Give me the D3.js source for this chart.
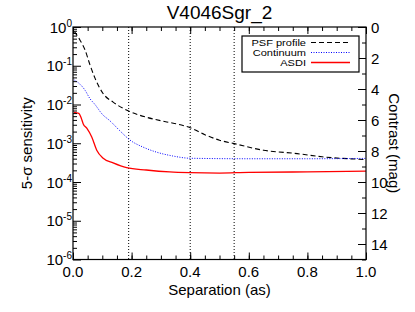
<!DOCTYPE html>
<html>
<head>
<meta charset="utf-8">
<script src="https://cdn.jsdelivr.net/npm/d3@7"></script>
<style>
  body { margin: 0; background: #fff; }
  svg { display: block; font-family: "Liberation Sans", Arial, sans-serif; }
</style>
</head>
<body>
<svg id="chart" width="415" height="312"></svg>
<script>
// ---- data ----
const title = "V4046Sgr_2";
const xLabel = "Separation (as)";
const yLabel = "5-\u03c3 sensitivity";
const y2Label = "Contrast (mag)";

const psfSep  = [0.005, 0.024, 0.041, 0.058, 0.075, 0.102, 0.137, 0.188, 0.25, 0.32, 0.37, 0.40, 0.45, 0.50, 0.55, 0.65, 0.765, 0.85, 0.92, 1.0];
const psfVal  = [0.76, 0.457, 0.257, 0.105, 0.048, 0.0195, 0.0115, 0.0069, 0.0047, 0.00355, 0.00295, 0.00251, 0.00166, 0.0012, 0.00098, 0.00066, 0.00054, 0.000447, 0.000407, 0.00038];

const contSep = [0.005, 0.02, 0.041, 0.058, 0.075, 0.1, 0.126, 0.16, 0.195, 0.24, 0.285, 0.34, 0.4, 0.6, 0.8, 1.0];
const contVal = [0.0427, 0.0355, 0.0234, 0.0141, 0.0100, 0.0056, 0.0038, 0.0021, 0.0012, 0.00079, 0.00059, 0.00047, 0.00041, 0.000398, 0.000398, 0.000407];

const asdiSep = [0.003, 0.02, 0.028, 0.035, 0.047, 0.064, 0.081, 0.103, 0.137, 0.183, 0.25, 0.33, 0.4, 0.5, 0.6, 0.8, 1.0];
const asdiVal = [0.0063, 0.0059, 0.0045, 0.00316, 0.00245, 0.00145, 0.00066, 0.00041, 0.00031, 0.000234, 0.000204, 0.000182, 0.000174, 0.00017, 0.000178, 0.000182, 0.00019];

const vLines = [0.19, 0.40, 0.55];

const xTicks = [0.0, 0.2, 0.4, 0.6, 0.8, 1.0];
const xTickLabels = ["0.0", "0.2", "0.4", "0.6", "0.8", "1.0"];
const yExponents = [0, -1, -2, -3, -4, -5, -6];
const magTicks = [0, 2, 4, 6, 8, 10, 12, 14];

const legendNames = ["PSF profile", "Continuum", "ASDI"];

// ---- layout ----
const L = 73, R = 366, T = 27, B = 259.5;
const svg = d3.select("#chart");

const x = d3.scaleLinear().domain([0, 1]).range([L, R]);
const y = d3.scaleLog().domain([1e-6, 1]).range([B, T]);
const mag = d3.scaleLinear().domain([0, 15]).range([T, B]);

// vertical dotted lines
svg.selectAll("line.vl").data(vLines).join("line")
  .attr("x1", d => x(d)).attr("x2", d => x(d))
  .attr("y1", T).attr("y2", B)
  .attr("stroke", "#000").attr("stroke-width", 1)
  .attr("stroke-dasharray", "1,2");

// curves
const series = [
  {sep: psfSep, val: psfVal, color: "#000", width: 1.1, dash: "5,3"},
  {sep: contSep, val: contVal, color: "#0000ff", width: 1, dash: "1,1.5"},
  {sep: asdiSep, val: asdiVal, color: "#ff0000", width: 1.3, dash: null}
];
const line = d3.line().x(d => x(d[0])).y(d => y(d[1])).curve(d3.curveMonotoneX);
series.forEach(s => {
  const pts = s.sep.map((v, i) => [v, s.val[i]]);
  svg.append("path").attr("d", line(pts))
    .attr("fill", "none").attr("stroke", s.color)
    .attr("stroke-width", s.width)
    .attr("stroke-dasharray", s.dash);
});

// frame
svg.append("rect").attr("x", L).attr("y", T).attr("width", R - L).attr("height", B - T)
  .attr("fill", "none").attr("stroke", "#000").attr("stroke-width", 1.2);

// x axes (bottom & top, ticks inward)
const xMinor = d3.range(0, 1.0001, 0.05);
function xAxis(g, dir) {
  const major = dir === "bottom" ? d3.axisBottom(x) : d3.axisTop(x);
  const minor = dir === "bottom" ? d3.axisBottom(x) : d3.axisTop(x);
  g.append("g").call(minor.tickValues(xMinor).tickSize(-4).tickFormat(""));
  g.append("g").call(major.tickValues(xTicks).tickSize(-7).tickFormat(""));
  g.selectAll(".domain").remove();
  g.selectAll("line").attr("stroke", "#000").attr("stroke-width", 1);
}
svg.append("g").attr("transform", `translate(0,${B})`).call(g => xAxis(g, "bottom"));
svg.append("g").attr("transform", `translate(0,${T})`).call(g => xAxis(g, "top"));

svg.selectAll("text.xt").data(xTicks).join("text")
  .attr("x", d => x(d)).attr("y", 277)
  .attr("text-anchor", "middle").attr("font-size", 15)
  .text((d, i) => xTickLabels[i]);

// left log axis
const yMinor = [];
for (let e = -6; e < 0; e++) for (let m = 2; m <= 9; m++) yMinor.push(m * Math.pow(10, e));
const yMajor = yExponents.map(e => Math.pow(10, e));
const gy = svg.append("g").attr("transform", `translate(${L},0)`);
gy.append("g").call(d3.axisLeft(y).tickValues(yMinor).tickSize(-4).tickFormat(""));
gy.append("g").call(d3.axisLeft(y).tickValues(yMajor).tickSize(-8).tickFormat(""));
gy.selectAll(".domain").remove();
gy.selectAll("line").attr("stroke", "#000").attr("stroke-width", 1);

const yl = svg.selectAll("text.yt").data(yExponents).join("text")
  .attr("x", 72).attr("y", d => y(Math.pow(10, d)) + 5.5)
  .attr("text-anchor", "end").attr("font-size", 15);
yl.append("tspan").text("10");
yl.append("tspan").attr("font-size", 10).attr("dy", -6).text(d => d === 0 ? "0" : "-" + Math.abs(d));

// right magnitude axis
const gm = svg.append("g").attr("transform", `translate(${R},0)`);
gm.append("g").call(d3.axisRight(mag).tickValues(d3.range(0, 16, 1)).tickSize(-4).tickFormat(""));
gm.append("g").call(d3.axisRight(mag).tickValues(magTicks).tickSize(-8).tickFormat(""));
gm.selectAll(".domain").remove();
gm.selectAll("line").attr("stroke", "#000").attr("stroke-width", 1);

svg.selectAll("text.mt").data(magTicks).join("text")
  .attr("x", 371).attr("y", d => mag(d) + 5.5)
  .attr("text-anchor", "start").attr("font-size", 15)
  .text(d => d);

// labels
svg.append("text").attr("x", (L + R) / 2).attr("y", 19)
  .attr("text-anchor", "middle").attr("font-size", 19).text(title);
svg.append("text").attr("x", (L + R) / 2).attr("y", 295)
  .attr("text-anchor", "middle").attr("font-size", 15).text(xLabel);
svg.append("text").attr("transform", `translate(32,${(T + B) / 2}) rotate(-90)`)
  .attr("text-anchor", "middle").attr("font-size", 15).text(yLabel);
svg.append("text").attr("transform", `translate(389,${(T + B) / 2}) rotate(90)`)
  .attr("text-anchor", "middle").attr("font-size", 15).text(y2Label);

// legend
const lg = svg.append("g");
lg.append("rect").attr("x", 242).attr("y", 36).attr("width", 117).attr("height", 36)
  .attr("fill", "#fff").attr("stroke", "#000").attr("stroke-width", 1.2);
legendNames.forEach((name, i) => {
  const yy = 46 + i * 10;
  lg.append("text").attr("transform", `translate(306,${yy}) scale(1.15,1)`)
    .attr("text-anchor", "end").attr("font-size", 9.6).text(name);
  lg.append("line").attr("x1", 311).attr("x2", 350).attr("y1", yy - 3.5).attr("y2", yy - 3.5)
    .attr("stroke", series[i].color).attr("stroke-width", series[i].width)
    .attr("stroke-dasharray", series[i].dash);
});
</script>
</body>
</html>
